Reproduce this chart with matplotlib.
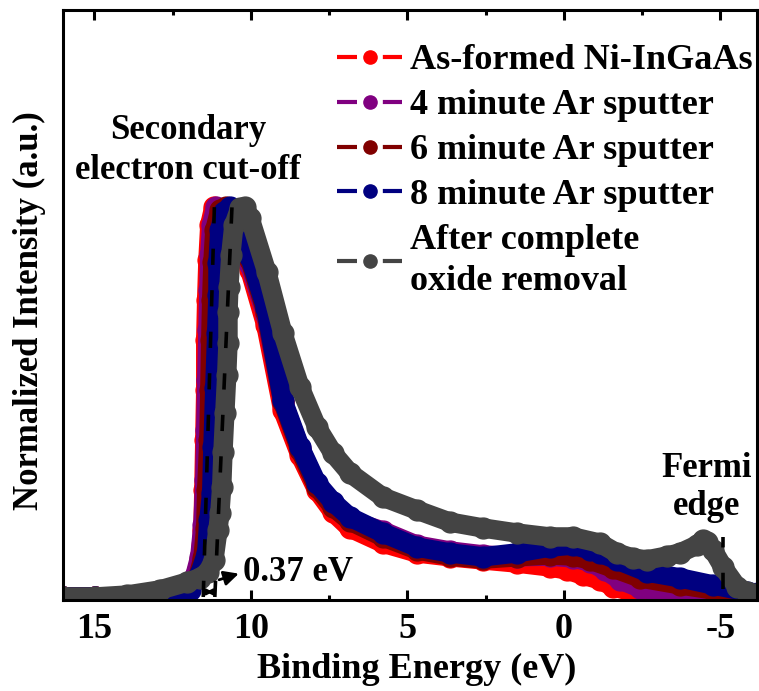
import matplotlib
matplotlib.use("Agg")
import matplotlib.pyplot as plt
from matplotlib.lines import Line2D

plt.rcParams['font.family'] = ['Liberation Serif', 'DejaVu Serif']
plt.rcParams['font.weight'] = 'bold'
plt.rcParams['axes.unicode_minus'] = False

# ---- UPS spectra (binding energy in eV, normalized intensity) ----
E_asformed = [16.0, 14.98, 13.23, 12.43, 12.11, 11.79, 11.63, 11.53, 11.50, 11.47,
              11.44, 11.44, 11.41, 11.37, 11.31, 11.18, 10.99, 10.73, 10.42, 10.35,
              10.03, 9.52, 8.98, 8.43, 7.89, 7.38, 6.84, 5.78, 4.70, 3.64, 2.59,
              1.50, 0.45, -0.10, -0.61, -1.15, -1.57, -2.20, -3.07, -4.35, -6.2]
I_asformed = [0.0, 0.0, 0.0, 0.005, 0.018, 0.049, 0.095, 0.172, 0.274, 0.403,
              0.531, 0.659, 0.762, 0.864, 0.954, 1.0, 0.992, 0.954, 0.890, 0.915,
              0.838, 0.697, 0.479, 0.364, 0.274, 0.218, 0.177, 0.138, 0.113, 0.103, 0.095,
              0.087, 0.077, 0.069, 0.056, 0.044, 0.026, 0.013, 0.005, 0.0, 0.0]

E_4min = [16.0, 14.98, 13.23, 12.43, 12.11, 11.79, 11.63, 11.53, 11.47, 11.44,
          11.41, 11.37, 11.34, 11.31, 11.25, 11.12, 10.93, 10.67, 10.35, 10.03,
          9.52, 8.98, 8.43, 7.89, 7.38, 6.84, 5.78, 4.70, 3.64, 2.59, 1.50,
          0.45, -0.29, -0.83, -1.31, -1.79, -2.43, -3.39, -4.66, -6.2]
I_4min = [0.0, 0.0, 0.0, 0.005, 0.021, 0.054, 0.103, 0.185, 0.300, 0.428,
          0.556, 0.685, 0.787, 0.877, 0.954, 1.0, 0.992, 0.956, 0.895, 0.851,
          0.723, 0.500, 0.382, 0.287, 0.236, 0.197, 0.169, 0.133, 0.118, 0.108, 0.103,
          0.105, 0.100, 0.090, 0.069, 0.044, 0.023, 0.010, 0.003, 0.0]

E_6min = [16.0, 14.98, 13.23, 12.33, 12.01, 11.69, 11.53, 11.44, 11.41, 11.34,
          11.31, 11.28, 11.25, 11.21, 11.15, 10.99, 10.80, 10.54, 10.29, 10.03,
          9.52, 8.98, 8.43, 7.89, 7.38, 6.84, 5.78, 4.70, 3.64, 2.59, 1.50,
          0.45, -0.29, -0.83, -1.57, -2.43, -3.71, -4.76, -5.62, -6.2]
I_6min = [0.0, 0.0, 0.0, 0.005, 0.018, 0.051, 0.100, 0.177, 0.274, 0.403,
          0.531, 0.659, 0.762, 0.859, 0.941, 0.992, 1.0, 0.982, 0.936, 0.864,
          0.731, 0.500, 0.377, 0.282, 0.231, 0.195, 0.154, 0.121, 0.105, 0.097, 0.103,
          0.108, 0.105, 0.095, 0.074, 0.049, 0.031, 0.018, 0.008, 0.003]

E_8min = [16.0, 14.98, 13.23, 12.27, 11.95, 11.63, 11.41, 11.34, 11.25, 11.21,
          11.15, 11.09, 11.05, 11.05, 10.99, 10.86, 10.67, 10.42, 10.22, 10.03,
          9.52, 8.98, 8.43, 7.89, 7.38, 6.84, 5.78, 4.70, 3.64, 2.59, 1.50,
          0.45, -0.29, -0.83, -1.15, -1.69, -2.65, -3.71, -4.76, -5.85, -6.2]
I_8min = [0.0, 0.0, 0.0, 0.003, 0.018, 0.059, 0.113, 0.197, 0.267, 0.385,
          0.536, 0.677, 0.774, 0.856, 0.941, 0.987, 1.0, 0.987, 0.941, 0.872,
          0.741, 0.505, 0.385, 0.292, 0.244, 0.205, 0.164, 0.128, 0.113, 0.103, 0.113,
          0.128, 0.133, 0.121, 0.113, 0.095, 0.064, 0.049, 0.031, 0.013, 0.010]

E_clean = [16.0, 14.98, 13.96, 12.91, 12.04, 11.63, 11.37, 11.18, 11.05, 10.99,
           10.93, 10.89, 10.83, 10.77, 10.73, 10.73, 10.70, 10.64, 10.54, 10.35,
           10.19, 10.03, 9.49, 8.98, 8.43, 7.89, 7.38, 6.84, 5.78, 4.70, 3.64,
           2.59, 1.50, 0.45, -0.29, -1.15, -1.69, -2.20, -2.65, -3.29, -3.71,
           -4.25, -4.44, -4.57, -4.76, -5.08, -5.53, -5.85, -6.2]
I_clean = [0.0, 0.0, 0.005, 0.018, 0.038, 0.049, 0.064, 0.095, 0.172, 0.215,
           0.282, 0.372, 0.472, 0.569, 0.651, 0.731, 0.795, 0.877, 0.954, 0.997,
           1.0, 0.972, 0.833, 0.677, 0.538, 0.436, 0.369, 0.318, 0.256, 0.223, 0.192,
           0.177, 0.164, 0.154, 0.154, 0.138, 0.113, 0.100, 0.095, 0.105, 0.113,
           0.133, 0.146, 0.141, 0.121, 0.077, 0.026, 0.013, 0.008]

# linear extrapolation of the cut-off edges
fit_I = [0.0, 1.04]
fit_E_left = [11.52, 11.15]
fit_E_right = [11.15, 10.58]
# Fermi level position
fermi_E = [-5.07, -5.07]
fermi_I = [0.02, 0.155]

labels = ['As-formed Ni-InGaAs', '4 minute Ar sputter', '6 minute Ar sputter',
          '8 minute Ar sputter', 'After complete\noxide removal']
colors = ['#ff0000', '#800080', '#800000', '#000080', '#444444']

fig = plt.figure(figsize=(7.59, 6.91), dpi=100)
ax = fig.add_axes([63 / 759, 1 - 600 / 691, 694 / 759, 590 / 691])

series = [(E_asformed, I_asformed), (E_4min, I_4min), (E_6min, I_6min),
          (E_8min, I_8min), (E_clean, I_clean)]
draw_order = [4, 0, 1, 2, 3]
for k in draw_order:
    e, i = series[k]
    ax.plot(e, i, color=colors[k], lw=14, solid_joinstyle='round',
            solid_capstyle='round', marker='o', ms=15, mec=colors[k], zorder=2 + k * 0.1)

dash = (0, (4.5, 7))
ax.plot(fit_E_left, fit_I, color='k', lw=2.6, ls=dash, zorder=5)
ax.plot(fit_E_right, fit_I, color='k', lw=2.6, ls=dash, zorder=5)
ax.plot(fermi_E, fermi_I, color='k', lw=2.6, ls=dash, zorder=5)

ax.set_xlim(16.0, -6.17)
ax.set_ylim(-0.0077, 1.505)
ax.set_xticks([15, 10, 5, 0, -5])
ax.set_xticks([12.5, 7.5, 2.5, -2.5], minor=True)
ax.set_xticklabels(['15', '10', '5', '0', '-5'])
ax.set_yticks([])
ax.tick_params(axis='x', which='both', direction='in', top=True, width=2.2,
               labelsize=26, pad=9)
ax.tick_params(axis='x', which='major', length=7)
ax.tick_params(axis='x', which='minor', length=3.5)
for sp in ax.spines.values():
    sp.set_linewidth(2.2)

ax.set_xlabel('Binding Energy (eV)', fontsize=26, fontweight='bold')
ax.xaxis.set_label_coords((417 - 63) / 694, -0.09)
ax.set_ylabel('Normalized Intensity (a.u.)', fontsize=25, fontweight='bold')
ax.yaxis.set_label_coords(-0.024, 0.49)

ax.text(12.01, 1.145, 'Secondary\nelectron cut-off', fontsize=25, ha='center',
        va='center', linespacing=1.25, zorder=6)
ax.text(-4.57, 0.28, 'Fermi\nedge', fontsize=25, ha='center', va='center',
        linespacing=1.2, zorder=6)
ax.text(10.26, 0.062, '0.37 eV', fontsize=25, ha='left', va='center', zorder=6)
ax.annotate('', xy=(10.30, 0.062), xytext=(11.1, 0.042),
            arrowprops=dict(arrowstyle='-|>', lw=2, color='k', mutation_scale=22),
            zorder=6)
ax.annotate('', xy=(11.12, 0.013), xytext=(11.52, 0.013),
            arrowprops=dict(arrowstyle='<|-|>', lw=1.5, color='k', mutation_scale=9),
            zorder=6)

handles = [Line2D([], [], color=c, lw=3, ls=(0, (4.8, 6.2)), marker='o', ms=9.5)
           for c in colors]
leg = ax.legend(handles, labels, loc='upper left',
                bbox_to_anchor=((337 - 63) / 694, 0.942),
                frameon=False, fontsize=26, handlelength=1.8, handletextpad=0.22,
                labelspacing=0.32, borderpad=0, borderaxespad=0)
leg.get_texts()[4].set_linespacing(1.35)

fig.savefig('out.png', dpi=100)
